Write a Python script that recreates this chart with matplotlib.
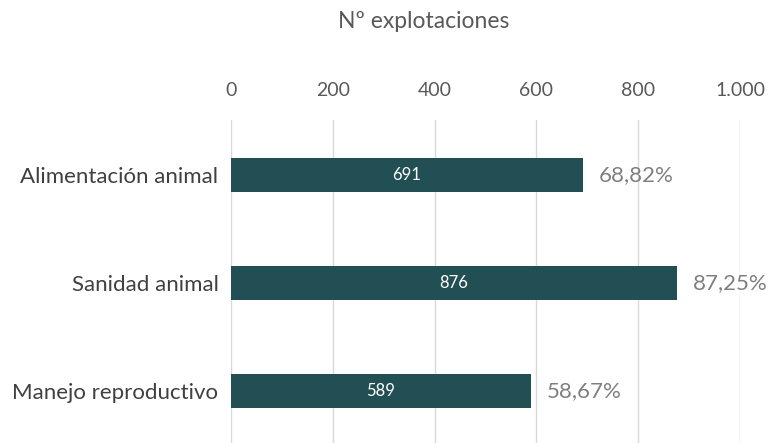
import matplotlib
matplotlib.use("Agg")
import matplotlib.pyplot as plt

categories = ["Alimentación animal", "Sanidad animal", "Manejo reproductivo"]
values = [691, 876, 589]
percent_labels = ["68,82%", "87,25%", "58,67%"]
xticks = [0, 200, 400, 600, 800, 1000]
xtick_labels = ["0", "200", "400", "600", "800", "1.000"]

plt.rcParams['font.family'] = ['Lato', 'DejaVu Sans']

fig = plt.figure(figsize=(7.75, 4.43), dpi=100)
ax = fig.add_axes([231/775, 0.0, 509/775, 1 - 120/443])

ypos = list(range(len(categories)))
bars = ax.barh(ypos, values, height=0.315, color="#224f53", zorder=3)
ax.set_ylim(2.48, -0.51)
ax.set_xlim(0, 1000)

ax.set_yticks(ypos)
ax.set_yticklabels(categories, fontsize=16, color="#404040")
ax.tick_params(axis='y', length=0, pad=9)

ax.xaxis.tick_top()
ax.set_xticks(xticks)
ax.set_xticklabels(xtick_labels, fontsize=14, color="#595959")
ax.tick_params(axis='x', length=0, pad=15)
ax.grid(axis='x', color="#d9d9d9", linewidth=1, zorder=0)
for s in ax.spines.values():
    s.set_visible(False)

for y, v, p in zip(ypos, values, percent_labels):
    ax.text(v / 2, y, str(v), ha='center', va='center', color='white', fontsize=12, zorder=4)
    ax.text(v + 31, y, p, ha='left', va='center', color='#7f7f7f', fontsize=16, zorder=4, clip_on=False)

fig.text(424/775, 1 - 22/443, "Nº explotaciones", ha='center', va='center', fontsize=16.5, color="#595959")

fig.savefig("out.png", dpi=100)
